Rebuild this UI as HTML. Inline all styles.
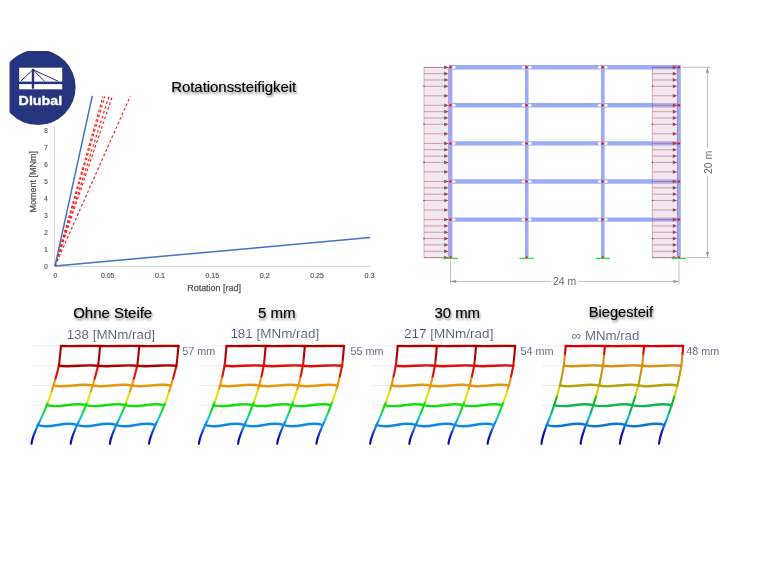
<!DOCTYPE html>
<html lang="de"><head><meta charset="utf-8"><title>Rotationssteifigkeit</title>
<style>
html,body{margin:0;padding:0;background:#fff;}
body{width:760px;height:570px;overflow:hidden;font-family:"Liberation Sans",sans-serif;}
svg{display:block;}
.h{font-family:"Liberation Sans",sans-serif;font-size:14.6px;fill:#000;stroke:#000;stroke-width:0.14px;}
.v{font-family:"Liberation Sans",sans-serif;font-size:12.6px;fill:#47536f;stroke:#fff;stroke-width:0.12px;}
.mm{font-family:"Liberation Sans",sans-serif;font-size:11.4px;fill:#47536f;stroke:#fff;stroke-width:0.1px;}
.t{font-family:"Liberation Sans",sans-serif;font-size:6.3px;fill:#555;stroke:#555;stroke-width:0.15px;}
.ax{font-family:"Liberation Sans",sans-serif;font-size:8.4px;fill:#555;stroke:#555;stroke-width:0.25px;}
.dim{font-family:"Liberation Sans",sans-serif;font-size:10.5px;fill:#6a6a6a;}
</style></head><body>
<svg width="760" height="570" viewBox="0 0 760 570">
<defs>
<filter id="sh" x="-10%" y="-40%" width="120%" height="200%"><feGaussianBlur in="SourceAlpha" stdDeviation="1.2"/><feOffset dx="0.6" dy="1.7" result="o"/><feComponentTransfer><feFuncA type="linear" slope="0.5"/></feComponentTransfer><feMerge><feMergeNode/><feMergeNode in="SourceGraphic"/></feMerge></filter>
<filter id="soft"><feGaussianBlur stdDeviation="0.4"/></filter>
<filter id="soft2"><feGaussianBlur stdDeviation="0.35"/></filter>
<clipPath id="lc"><rect x="9.5" y="50.9" width="80" height="90"/></clipPath>
<linearGradient id="g1" gradientUnits="userSpaceOnUse" x1="0" y1="346" x2="0" y2="444"><stop offset="0" stop-color="#b00404"/><stop offset="0.21" stop-color="#b00404"/><stop offset="0.22" stop-color="#e00c0c"/><stop offset="0.33" stop-color="#e00c0c"/><stop offset="0.35" stop-color="#e8960a"/><stop offset="0.46" stop-color="#e8960a"/><stop offset="0.48" stop-color="#e8e010"/><stop offset="0.57" stop-color="#e4e410"/><stop offset="0.59" stop-color="#10e010"/><stop offset="0.66" stop-color="#10e010"/><stop offset="0.69" stop-color="#10dc70"/><stop offset="0.73" stop-color="#10d0e0"/><stop offset="0.76" stop-color="#10b8ec"/><stop offset="0.78" stop-color="#1088e8"/><stop offset="0.84" stop-color="#1088e8"/><stop offset="0.87" stop-color="#1048d8"/><stop offset="0.91" stop-color="#1028cc"/><stop offset="0.94" stop-color="#1010b0"/><stop offset="1" stop-color="#10109c"/></linearGradient>
<linearGradient id="g2" gradientUnits="userSpaceOnUse" x1="0" y1="346" x2="0" y2="444"><stop offset="0" stop-color="#b00404"/><stop offset="0.14" stop-color="#b00404"/><stop offset="0.16" stop-color="#e00c0c"/><stop offset="0.31" stop-color="#e00c0c"/><stop offset="0.33" stop-color="#e8960a"/><stop offset="0.43" stop-color="#e8960a"/><stop offset="0.46" stop-color="#e8e010"/><stop offset="0.56" stop-color="#e4e410"/><stop offset="0.58" stop-color="#10e010"/><stop offset="0.66" stop-color="#10e010"/><stop offset="0.69" stop-color="#10dc70"/><stop offset="0.73" stop-color="#10d0e0"/><stop offset="0.76" stop-color="#10b8ec"/><stop offset="0.78" stop-color="#1088e8"/><stop offset="0.84" stop-color="#1088e8"/><stop offset="0.87" stop-color="#1048d8"/><stop offset="0.91" stop-color="#1028cc"/><stop offset="0.94" stop-color="#1010b0"/><stop offset="1" stop-color="#10109c"/></linearGradient>
<linearGradient id="g4" gradientUnits="userSpaceOnUse" x1="0" y1="346" x2="0" y2="444"><stop offset="0" stop-color="#d80404"/><stop offset="0.08" stop-color="#d80404"/><stop offset="0.1" stop-color="#d89010"/><stop offset="0.29" stop-color="#d89010"/><stop offset="0.31" stop-color="#b0a408"/><stop offset="0.4" stop-color="#b0a408"/><stop offset="0.42" stop-color="#d8d010"/><stop offset="0.5" stop-color="#d8d010"/><stop offset="0.52" stop-color="#10c010"/><stop offset="0.59" stop-color="#10c010"/><stop offset="0.6" stop-color="#10b450"/><stop offset="0.68" stop-color="#10b460"/><stop offset="0.7" stop-color="#10c0c0"/><stop offset="0.73" stop-color="#10c0e0"/><stop offset="0.77" stop-color="#1090e4"/><stop offset="0.79" stop-color="#1078d4"/><stop offset="0.83" stop-color="#1070d4"/><stop offset="0.85" stop-color="#1030d0"/><stop offset="0.89" stop-color="#1010cc"/><stop offset="0.93" stop-color="#1010a0"/><stop offset="1" stop-color="#101090"/></linearGradient>
</defs>
<rect width="760" height="570" fill="#fff"/>
<g id="chart">
<g><line x1="54.5" y1="126" x2="54.5" y2="266.8" stroke="#d2d2d2" stroke-width="1"/><line x1="54" y1="266.4" x2="370" y2="266.4" stroke="#cfcfcf" stroke-width="1"/></g>
<text class="t" x="46" y="269.2" text-anchor="middle">0</text><text class="t" x="46" y="252.2" text-anchor="middle">1</text><text class="t" x="46" y="235.2" text-anchor="middle">2</text><text class="t" x="46" y="218.2" text-anchor="middle">3</text><text class="t" x="46" y="201.2" text-anchor="middle">4</text><text class="t" x="46" y="184.2" text-anchor="middle">5</text><text class="t" x="46" y="167.2" text-anchor="middle">6</text><text class="t" x="46" y="150.2" text-anchor="middle">7</text><text class="t" x="46" y="133.2" text-anchor="middle">8</text><text class="t" x="53.5" y="277.6" textLength="3.6" lengthAdjust="spacingAndGlyphs">0</text><text class="t" x="100.9" y="277.6" textLength="13.5" lengthAdjust="spacingAndGlyphs">0.05</text><text class="t" x="155" y="277.6" textLength="10" lengthAdjust="spacingAndGlyphs">0.1</text><text class="t" x="205.6" y="277.6" textLength="13.5" lengthAdjust="spacingAndGlyphs">0.15</text><text class="t" x="259.7" y="277.6" textLength="10" lengthAdjust="spacingAndGlyphs">0.2</text><text class="t" x="310.3" y="277.6" textLength="13.5" lengthAdjust="spacingAndGlyphs">0.25</text><text class="t" x="364.4" y="277.6" textLength="10" lengthAdjust="spacingAndGlyphs">0.3</text>
<text class="ax" x="187.2" y="290.7" textLength="53.8" lengthAdjust="spacingAndGlyphs">Rotation [rad]</text><text class="ax" transform="translate(36.2 212.6) rotate(-90)" textLength="61.6" lengthAdjust="spacingAndGlyphs">Moment [MNm]</text>
<g filter="url(#soft2)" fill="none" stroke-linecap="butt"><line x1="55" y1="266" x2="103" y2="96.5" stroke="#ff1a1a" stroke-width="1.15" stroke-dasharray="2.7 2.3"/><line x1="55" y1="266" x2="104.8" y2="96.5" stroke="#ff1a1a" stroke-width="1.15" stroke-dasharray="2.7 2.3"/><line x1="55" y1="266" x2="108.9" y2="96.5" stroke="#ff1a1a" stroke-width="1.15" stroke-dasharray="2.7 2.3"/><line x1="55" y1="266" x2="112.5" y2="95.8" stroke="#ff1a1a" stroke-width="1.15" stroke-dasharray="2.7 2.3"/><line x1="55" y1="266" x2="130.3" y2="96.2" stroke="#ff1a1a" stroke-width="1.15" stroke-dasharray="2.7 2.3"/><line x1="55" y1="266" x2="92.3" y2="95.8" stroke="#4472c4" stroke-width="1.5"/><line x1="55" y1="266" x2="370.2" y2="237.5" stroke="#4472c4" stroke-width="1.5"/></g>
<text class="h" x="171.2" y="91.8" filter="url(#sh)" textLength="125" lengthAdjust="spacingAndGlyphs">Rotationssteifigkeit</text>
</g>
<g id="logo" filter="url(#soft2)">
<circle cx="37.85" cy="87.3" r="37.75" fill="#28367e" clip-path="url(#lc)"/>
<rect x="19.2" y="67.7" width="43" height="13.9" fill="#fff"/><rect x="19.2" y="84.1" width="43" height="5.2" fill="#fff"/><rect x="31.8" y="68.9" width="2.4" height="19.8" fill="#28367e"/><g stroke="#28367e" stroke-width="1" fill="none"><line x1="32.6" y1="70" x2="20.6" y2="81.3"/><line x1="33.6" y1="70.4" x2="44.6" y2="81.3"/><line x1="33.6" y1="70" x2="58.4" y2="81.3"/></g>
<text x="18.6" y="105.4" font-family="Liberation Sans, sans-serif" font-weight="bold" font-size="13.7" fill="#fff" stroke="#fff" stroke-width="0.35" textLength="43.6" lengthAdjust="spacingAndGlyphs">Dlubal</text>
</g>
<g id="struct" filter="url(#soft2)">
<line x1="449" y1="67.3" x2="680.6" y2="67.3" stroke="#9babf9" stroke-width="4.4"/><line x1="449" y1="105.3" x2="680.6" y2="105.3" stroke="#9babf9" stroke-width="4.4"/><line x1="449" y1="143.4" x2="680.6" y2="143.4" stroke="#9babf9" stroke-width="4.4"/><line x1="449" y1="181.5" x2="680.6" y2="181.5" stroke="#9babf9" stroke-width="4.4"/><line x1="449" y1="219.6" x2="680.6" y2="219.6" stroke="#9babf9" stroke-width="4.4"/><line x1="450.6" y1="65.1" x2="450.6" y2="257.8" stroke="#9babf9" stroke-width="3.6"/><line x1="526.7" y1="65.1" x2="526.7" y2="257.8" stroke="#9babf9" stroke-width="3.6"/><line x1="602.8" y1="65.1" x2="602.8" y2="257.8" stroke="#9babf9" stroke-width="3.6"/><line x1="679" y1="65.1" x2="679" y2="257.8" stroke="#9babf9" stroke-width="3.6"/>
<rect x="424" y="67.3" width="24.6" height="190.5" fill="#d9b8c8" fill-opacity="0.33" stroke="#8e3a66" stroke-opacity="0.7" stroke-width="0.5"/><line x1="424" y1="67.3" x2="446.1" y2="67.3" stroke="#8e3a66" stroke-opacity="0.7" stroke-width="0.6"/><path d="M448.6 67.3 l-4.4 -1.85 v3.7z" fill="#8e3a66" fill-opacity="0.92"/><line x1="424" y1="73.63" x2="446.1" y2="73.63" stroke="#8e3a66" stroke-opacity="0.7" stroke-width="0.6"/><path d="M448.6 73.63 l-4.4 -1.85 v3.7z" fill="#8e3a66" fill-opacity="0.92"/><line x1="424" y1="79.97" x2="446.1" y2="79.97" stroke="#8e3a66" stroke-opacity="0.7" stroke-width="0.6"/><path d="M448.6 79.97 l-4.4 -1.85 v3.7z" fill="#8e3a66" fill-opacity="0.92"/><line x1="424" y1="86.3" x2="446.1" y2="86.3" stroke="#8e3a66" stroke-opacity="0.7" stroke-width="0.6"/><path d="M448.6 86.3 l-4.4 -1.85 v3.7z" fill="#8e3a66" fill-opacity="0.92"/><circle cx="424" cy="86.3" r="0.8" fill="#8e3a66"/><line x1="424" y1="95.8" x2="446.1" y2="95.8" stroke="#8e3a66" stroke-opacity="0.7" stroke-width="0.6"/><path d="M448.6 95.8 l-4.4 -1.85 v3.7z" fill="#8e3a66" fill-opacity="0.92"/><line x1="424" y1="105.3" x2="446.1" y2="105.3" stroke="#8e3a66" stroke-opacity="0.7" stroke-width="0.6"/><path d="M448.6 105.3 l-4.4 -1.85 v3.7z" fill="#8e3a66" fill-opacity="0.92"/><line x1="424" y1="111.63" x2="446.1" y2="111.63" stroke="#8e3a66" stroke-opacity="0.7" stroke-width="0.6"/><path d="M448.6 111.63 l-4.4 -1.85 v3.7z" fill="#8e3a66" fill-opacity="0.92"/><line x1="424" y1="117.97" x2="446.1" y2="117.97" stroke="#8e3a66" stroke-opacity="0.7" stroke-width="0.6"/><path d="M448.6 117.97 l-4.4 -1.85 v3.7z" fill="#8e3a66" fill-opacity="0.92"/><line x1="424" y1="124.3" x2="446.1" y2="124.3" stroke="#8e3a66" stroke-opacity="0.7" stroke-width="0.6"/><path d="M448.6 124.3 l-4.4 -1.85 v3.7z" fill="#8e3a66" fill-opacity="0.92"/><circle cx="424" cy="124.3" r="0.8" fill="#8e3a66"/><line x1="424" y1="133.8" x2="446.1" y2="133.8" stroke="#8e3a66" stroke-opacity="0.7" stroke-width="0.6"/><path d="M448.6 133.8 l-4.4 -1.85 v3.7z" fill="#8e3a66" fill-opacity="0.92"/><line x1="424" y1="143.4" x2="446.1" y2="143.4" stroke="#8e3a66" stroke-opacity="0.7" stroke-width="0.6"/><path d="M448.6 143.4 l-4.4 -1.85 v3.7z" fill="#8e3a66" fill-opacity="0.92"/><line x1="424" y1="149.73" x2="446.1" y2="149.73" stroke="#8e3a66" stroke-opacity="0.7" stroke-width="0.6"/><path d="M448.6 149.73 l-4.4 -1.85 v3.7z" fill="#8e3a66" fill-opacity="0.92"/><line x1="424" y1="156.07" x2="446.1" y2="156.07" stroke="#8e3a66" stroke-opacity="0.7" stroke-width="0.6"/><path d="M448.6 156.07 l-4.4 -1.85 v3.7z" fill="#8e3a66" fill-opacity="0.92"/><line x1="424" y1="162.4" x2="446.1" y2="162.4" stroke="#8e3a66" stroke-opacity="0.7" stroke-width="0.6"/><path d="M448.6 162.4 l-4.4 -1.85 v3.7z" fill="#8e3a66" fill-opacity="0.92"/><circle cx="424" cy="162.4" r="0.8" fill="#8e3a66"/><line x1="424" y1="171.9" x2="446.1" y2="171.9" stroke="#8e3a66" stroke-opacity="0.7" stroke-width="0.6"/><path d="M448.6 171.9 l-4.4 -1.85 v3.7z" fill="#8e3a66" fill-opacity="0.92"/><line x1="424" y1="181.5" x2="446.1" y2="181.5" stroke="#8e3a66" stroke-opacity="0.7" stroke-width="0.6"/><path d="M448.6 181.5 l-4.4 -1.85 v3.7z" fill="#8e3a66" fill-opacity="0.92"/><line x1="424" y1="187.83" x2="446.1" y2="187.83" stroke="#8e3a66" stroke-opacity="0.7" stroke-width="0.6"/><path d="M448.6 187.83 l-4.4 -1.85 v3.7z" fill="#8e3a66" fill-opacity="0.92"/><line x1="424" y1="194.17" x2="446.1" y2="194.17" stroke="#8e3a66" stroke-opacity="0.7" stroke-width="0.6"/><path d="M448.6 194.17 l-4.4 -1.85 v3.7z" fill="#8e3a66" fill-opacity="0.92"/><line x1="424" y1="200.5" x2="446.1" y2="200.5" stroke="#8e3a66" stroke-opacity="0.7" stroke-width="0.6"/><path d="M448.6 200.5 l-4.4 -1.85 v3.7z" fill="#8e3a66" fill-opacity="0.92"/><circle cx="424" cy="200.5" r="0.8" fill="#8e3a66"/><line x1="424" y1="210" x2="446.1" y2="210" stroke="#8e3a66" stroke-opacity="0.7" stroke-width="0.6"/><path d="M448.6 210 l-4.4 -1.85 v3.7z" fill="#8e3a66" fill-opacity="0.92"/><line x1="424" y1="219.6" x2="446.1" y2="219.6" stroke="#8e3a66" stroke-opacity="0.7" stroke-width="0.6"/><path d="M448.6 219.6 l-4.4 -1.85 v3.7z" fill="#8e3a66" fill-opacity="0.92"/><line x1="424" y1="225.93" x2="446.1" y2="225.93" stroke="#8e3a66" stroke-opacity="0.7" stroke-width="0.6"/><path d="M448.6 225.93 l-4.4 -1.85 v3.7z" fill="#8e3a66" fill-opacity="0.92"/><line x1="424" y1="232.27" x2="446.1" y2="232.27" stroke="#8e3a66" stroke-opacity="0.7" stroke-width="0.6"/><path d="M448.6 232.27 l-4.4 -1.85 v3.7z" fill="#8e3a66" fill-opacity="0.92"/><line x1="424" y1="238.6" x2="446.1" y2="238.6" stroke="#8e3a66" stroke-opacity="0.7" stroke-width="0.6"/><path d="M448.6 238.6 l-4.4 -1.85 v3.7z" fill="#8e3a66" fill-opacity="0.92"/><circle cx="424" cy="238.6" r="0.8" fill="#8e3a66"/><line x1="424" y1="244.9" x2="446.1" y2="244.9" stroke="#8e3a66" stroke-opacity="0.7" stroke-width="0.6"/><path d="M448.6 244.9 l-4.4 -1.85 v3.7z" fill="#8e3a66" fill-opacity="0.92"/><line x1="424" y1="251.3" x2="446.1" y2="251.3" stroke="#8e3a66" stroke-opacity="0.7" stroke-width="0.6"/><path d="M448.6 251.3 l-4.4 -1.85 v3.7z" fill="#8e3a66" fill-opacity="0.92"/><line x1="424" y1="257.7" x2="446.1" y2="257.7" stroke="#8e3a66" stroke-opacity="0.7" stroke-width="0.6"/><path d="M448.6 257.7 l-4.4 -1.85 v3.7z" fill="#8e3a66" fill-opacity="0.92"/>
<rect x="652.4" y="67.3" width="24.8" height="190.5" fill="#d9b8c8" fill-opacity="0.33" stroke="#8e3a66" stroke-opacity="0.7" stroke-width="0.5"/><line x1="652.4" y1="67.3" x2="674.7" y2="67.3" stroke="#8e3a66" stroke-opacity="0.7" stroke-width="0.6"/><path d="M677.2 67.3 l-4.4 -1.85 v3.7z" fill="#8e3a66" fill-opacity="0.92"/><line x1="652.4" y1="73.63" x2="674.7" y2="73.63" stroke="#8e3a66" stroke-opacity="0.7" stroke-width="0.6"/><path d="M677.2 73.63 l-4.4 -1.85 v3.7z" fill="#8e3a66" fill-opacity="0.92"/><line x1="652.4" y1="79.97" x2="674.7" y2="79.97" stroke="#8e3a66" stroke-opacity="0.7" stroke-width="0.6"/><path d="M677.2 79.97 l-4.4 -1.85 v3.7z" fill="#8e3a66" fill-opacity="0.92"/><line x1="652.4" y1="86.3" x2="674.7" y2="86.3" stroke="#8e3a66" stroke-opacity="0.7" stroke-width="0.6"/><path d="M677.2 86.3 l-4.4 -1.85 v3.7z" fill="#8e3a66" fill-opacity="0.92"/><circle cx="652.4" cy="86.3" r="0.8" fill="#8e3a66"/><line x1="652.4" y1="95.8" x2="674.7" y2="95.8" stroke="#8e3a66" stroke-opacity="0.7" stroke-width="0.6"/><path d="M677.2 95.8 l-4.4 -1.85 v3.7z" fill="#8e3a66" fill-opacity="0.92"/><line x1="652.4" y1="105.3" x2="674.7" y2="105.3" stroke="#8e3a66" stroke-opacity="0.7" stroke-width="0.6"/><path d="M677.2 105.3 l-4.4 -1.85 v3.7z" fill="#8e3a66" fill-opacity="0.92"/><line x1="652.4" y1="111.63" x2="674.7" y2="111.63" stroke="#8e3a66" stroke-opacity="0.7" stroke-width="0.6"/><path d="M677.2 111.63 l-4.4 -1.85 v3.7z" fill="#8e3a66" fill-opacity="0.92"/><line x1="652.4" y1="117.97" x2="674.7" y2="117.97" stroke="#8e3a66" stroke-opacity="0.7" stroke-width="0.6"/><path d="M677.2 117.97 l-4.4 -1.85 v3.7z" fill="#8e3a66" fill-opacity="0.92"/><line x1="652.4" y1="124.3" x2="674.7" y2="124.3" stroke="#8e3a66" stroke-opacity="0.7" stroke-width="0.6"/><path d="M677.2 124.3 l-4.4 -1.85 v3.7z" fill="#8e3a66" fill-opacity="0.92"/><circle cx="652.4" cy="124.3" r="0.8" fill="#8e3a66"/><line x1="652.4" y1="133.8" x2="674.7" y2="133.8" stroke="#8e3a66" stroke-opacity="0.7" stroke-width="0.6"/><path d="M677.2 133.8 l-4.4 -1.85 v3.7z" fill="#8e3a66" fill-opacity="0.92"/><line x1="652.4" y1="143.4" x2="674.7" y2="143.4" stroke="#8e3a66" stroke-opacity="0.7" stroke-width="0.6"/><path d="M677.2 143.4 l-4.4 -1.85 v3.7z" fill="#8e3a66" fill-opacity="0.92"/><line x1="652.4" y1="149.73" x2="674.7" y2="149.73" stroke="#8e3a66" stroke-opacity="0.7" stroke-width="0.6"/><path d="M677.2 149.73 l-4.4 -1.85 v3.7z" fill="#8e3a66" fill-opacity="0.92"/><line x1="652.4" y1="156.07" x2="674.7" y2="156.07" stroke="#8e3a66" stroke-opacity="0.7" stroke-width="0.6"/><path d="M677.2 156.07 l-4.4 -1.85 v3.7z" fill="#8e3a66" fill-opacity="0.92"/><line x1="652.4" y1="162.4" x2="674.7" y2="162.4" stroke="#8e3a66" stroke-opacity="0.7" stroke-width="0.6"/><path d="M677.2 162.4 l-4.4 -1.85 v3.7z" fill="#8e3a66" fill-opacity="0.92"/><circle cx="652.4" cy="162.4" r="0.8" fill="#8e3a66"/><line x1="652.4" y1="171.9" x2="674.7" y2="171.9" stroke="#8e3a66" stroke-opacity="0.7" stroke-width="0.6"/><path d="M677.2 171.9 l-4.4 -1.85 v3.7z" fill="#8e3a66" fill-opacity="0.92"/><line x1="652.4" y1="181.5" x2="674.7" y2="181.5" stroke="#8e3a66" stroke-opacity="0.7" stroke-width="0.6"/><path d="M677.2 181.5 l-4.4 -1.85 v3.7z" fill="#8e3a66" fill-opacity="0.92"/><line x1="652.4" y1="187.83" x2="674.7" y2="187.83" stroke="#8e3a66" stroke-opacity="0.7" stroke-width="0.6"/><path d="M677.2 187.83 l-4.4 -1.85 v3.7z" fill="#8e3a66" fill-opacity="0.92"/><line x1="652.4" y1="194.17" x2="674.7" y2="194.17" stroke="#8e3a66" stroke-opacity="0.7" stroke-width="0.6"/><path d="M677.2 194.17 l-4.4 -1.85 v3.7z" fill="#8e3a66" fill-opacity="0.92"/><line x1="652.4" y1="200.5" x2="674.7" y2="200.5" stroke="#8e3a66" stroke-opacity="0.7" stroke-width="0.6"/><path d="M677.2 200.5 l-4.4 -1.85 v3.7z" fill="#8e3a66" fill-opacity="0.92"/><circle cx="652.4" cy="200.5" r="0.8" fill="#8e3a66"/><line x1="652.4" y1="210" x2="674.7" y2="210" stroke="#8e3a66" stroke-opacity="0.7" stroke-width="0.6"/><path d="M677.2 210 l-4.4 -1.85 v3.7z" fill="#8e3a66" fill-opacity="0.92"/><line x1="652.4" y1="219.6" x2="674.7" y2="219.6" stroke="#8e3a66" stroke-opacity="0.7" stroke-width="0.6"/><path d="M677.2 219.6 l-4.4 -1.85 v3.7z" fill="#8e3a66" fill-opacity="0.92"/><line x1="652.4" y1="225.93" x2="674.7" y2="225.93" stroke="#8e3a66" stroke-opacity="0.7" stroke-width="0.6"/><path d="M677.2 225.93 l-4.4 -1.85 v3.7z" fill="#8e3a66" fill-opacity="0.92"/><line x1="652.4" y1="232.27" x2="674.7" y2="232.27" stroke="#8e3a66" stroke-opacity="0.7" stroke-width="0.6"/><path d="M677.2 232.27 l-4.4 -1.85 v3.7z" fill="#8e3a66" fill-opacity="0.92"/><line x1="652.4" y1="238.6" x2="674.7" y2="238.6" stroke="#8e3a66" stroke-opacity="0.7" stroke-width="0.6"/><path d="M677.2 238.6 l-4.4 -1.85 v3.7z" fill="#8e3a66" fill-opacity="0.92"/><circle cx="652.4" cy="238.6" r="0.8" fill="#8e3a66"/><line x1="652.4" y1="244.9" x2="674.7" y2="244.9" stroke="#8e3a66" stroke-opacity="0.7" stroke-width="0.6"/><path d="M677.2 244.9 l-4.4 -1.85 v3.7z" fill="#8e3a66" fill-opacity="0.92"/><line x1="652.4" y1="251.3" x2="674.7" y2="251.3" stroke="#8e3a66" stroke-opacity="0.7" stroke-width="0.6"/><path d="M677.2 251.3 l-4.4 -1.85 v3.7z" fill="#8e3a66" fill-opacity="0.92"/><line x1="652.4" y1="257.7" x2="674.7" y2="257.7" stroke="#8e3a66" stroke-opacity="0.7" stroke-width="0.6"/><path d="M677.2 257.7 l-4.4 -1.85 v3.7z" fill="#8e3a66" fill-opacity="0.92"/>
<ellipse cx="453.8" cy="67.3" rx="1.7" ry="1.55" fill="#fff" stroke="#c8c8d8" stroke-width="0.3"/><circle cx="450.4" cy="67.3" r="1.25" fill="#ff0a0a"/><ellipse cx="523.5" cy="67.3" rx="1.7" ry="1.55" fill="#fff" stroke="#c8c8d8" stroke-width="0.3"/><ellipse cx="529.9" cy="67.3" rx="1.7" ry="1.55" fill="#fff" stroke="#c8c8d8" stroke-width="0.3"/><circle cx="526.5" cy="67.3" r="1.25" fill="#ff0a0a"/><ellipse cx="599.6" cy="67.3" rx="1.7" ry="1.55" fill="#fff" stroke="#c8c8d8" stroke-width="0.3"/><ellipse cx="606" cy="67.3" rx="1.7" ry="1.55" fill="#fff" stroke="#c8c8d8" stroke-width="0.3"/><circle cx="602.6" cy="67.3" r="1.25" fill="#ff0a0a"/><circle cx="678.8" cy="67.3" r="1.25" fill="#ff0a0a"/><ellipse cx="453.8" cy="105.3" rx="1.7" ry="1.55" fill="#fff" stroke="#c8c8d8" stroke-width="0.3"/><circle cx="450.4" cy="105.3" r="1.25" fill="#ff0a0a"/><ellipse cx="523.5" cy="105.3" rx="1.7" ry="1.55" fill="#fff" stroke="#c8c8d8" stroke-width="0.3"/><ellipse cx="529.9" cy="105.3" rx="1.7" ry="1.55" fill="#fff" stroke="#c8c8d8" stroke-width="0.3"/><circle cx="526.5" cy="105.3" r="1.25" fill="#ff0a0a"/><ellipse cx="599.6" cy="105.3" rx="1.7" ry="1.55" fill="#fff" stroke="#c8c8d8" stroke-width="0.3"/><ellipse cx="606" cy="105.3" rx="1.7" ry="1.55" fill="#fff" stroke="#c8c8d8" stroke-width="0.3"/><circle cx="602.6" cy="105.3" r="1.25" fill="#ff0a0a"/><circle cx="678.8" cy="105.3" r="1.25" fill="#ff0a0a"/><ellipse cx="453.8" cy="143.4" rx="1.7" ry="1.55" fill="#fff" stroke="#c8c8d8" stroke-width="0.3"/><circle cx="450.4" cy="143.4" r="1.25" fill="#ff0a0a"/><ellipse cx="523.5" cy="143.4" rx="1.7" ry="1.55" fill="#fff" stroke="#c8c8d8" stroke-width="0.3"/><ellipse cx="529.9" cy="143.4" rx="1.7" ry="1.55" fill="#fff" stroke="#c8c8d8" stroke-width="0.3"/><circle cx="526.5" cy="143.4" r="1.25" fill="#ff0a0a"/><ellipse cx="599.6" cy="143.4" rx="1.7" ry="1.55" fill="#fff" stroke="#c8c8d8" stroke-width="0.3"/><ellipse cx="606" cy="143.4" rx="1.7" ry="1.55" fill="#fff" stroke="#c8c8d8" stroke-width="0.3"/><circle cx="602.6" cy="143.4" r="1.25" fill="#ff0a0a"/><circle cx="678.8" cy="143.4" r="1.25" fill="#ff0a0a"/><ellipse cx="453.8" cy="181.5" rx="1.7" ry="1.55" fill="#fff" stroke="#c8c8d8" stroke-width="0.3"/><circle cx="450.4" cy="181.5" r="1.25" fill="#ff0a0a"/><ellipse cx="523.5" cy="181.5" rx="1.7" ry="1.55" fill="#fff" stroke="#c8c8d8" stroke-width="0.3"/><ellipse cx="529.9" cy="181.5" rx="1.7" ry="1.55" fill="#fff" stroke="#c8c8d8" stroke-width="0.3"/><circle cx="526.5" cy="181.5" r="1.25" fill="#ff0a0a"/><ellipse cx="599.6" cy="181.5" rx="1.7" ry="1.55" fill="#fff" stroke="#c8c8d8" stroke-width="0.3"/><ellipse cx="606" cy="181.5" rx="1.7" ry="1.55" fill="#fff" stroke="#c8c8d8" stroke-width="0.3"/><circle cx="602.6" cy="181.5" r="1.25" fill="#ff0a0a"/><circle cx="678.8" cy="181.5" r="1.25" fill="#ff0a0a"/><ellipse cx="453.8" cy="219.6" rx="1.7" ry="1.55" fill="#fff" stroke="#c8c8d8" stroke-width="0.3"/><circle cx="450.4" cy="219.6" r="1.25" fill="#ff0a0a"/><ellipse cx="523.5" cy="219.6" rx="1.7" ry="1.55" fill="#fff" stroke="#c8c8d8" stroke-width="0.3"/><ellipse cx="529.9" cy="219.6" rx="1.7" ry="1.55" fill="#fff" stroke="#c8c8d8" stroke-width="0.3"/><circle cx="526.5" cy="219.6" r="1.25" fill="#ff0a0a"/><ellipse cx="599.6" cy="219.6" rx="1.7" ry="1.55" fill="#fff" stroke="#c8c8d8" stroke-width="0.3"/><ellipse cx="606" cy="219.6" rx="1.7" ry="1.55" fill="#fff" stroke="#c8c8d8" stroke-width="0.3"/><circle cx="602.6" cy="219.6" r="1.25" fill="#ff0a0a"/><circle cx="678.8" cy="219.6" r="1.25" fill="#ff0a0a"/>
<line x1="443.3" y1="258.4" x2="457.9" y2="258.4" stroke="#2fe03a" stroke-width="1.3"/><rect x="449.7" y="256.4" width="1.8" height="1.8" fill="#ff1010"/><line x1="519.4" y1="258.4" x2="534" y2="258.4" stroke="#2fe03a" stroke-width="1.3"/><rect x="525.8" y="256.4" width="1.8" height="1.8" fill="#ff1010"/><line x1="595.5" y1="258.4" x2="610.1" y2="258.4" stroke="#2fe03a" stroke-width="1.3"/><rect x="601.9" y="256.4" width="1.8" height="1.8" fill="#ff1010"/><line x1="671.7" y1="258.4" x2="686.3" y2="258.4" stroke="#2fe03a" stroke-width="1.3"/><rect x="678.1" y="256.4" width="1.8" height="1.8" fill="#ff1010"/>
<g stroke="#a4a4a4" stroke-width="0.7" fill="none"><line x1="682" y1="67.2" x2="710.5" y2="67.2"/><line x1="686.5" y1="257.6" x2="710.5" y2="257.6"/><line x1="707.5" y1="67.2" x2="707.5" y2="148.5"/><line x1="707.5" y1="176" x2="707.5" y2="257.6"/><line x1="450.5" y1="261" x2="450.5" y2="284.5"/><line x1="679" y1="261" x2="679" y2="284.5"/><line x1="450.5" y1="281.4" x2="551" y2="281.4"/><line x1="578.2" y1="281.4" x2="679" y2="281.4"/></g><g fill="#9a9a9a"><path d="M707.5 67.2 l-1.6 5.6 h3.2z"/><path d="M707.5 257.6 l-1.6 -5.6 h3.2z"/><path d="M450.5 281.4 l5.6 -1.6 v3.2z"/><path d="M679 281.4 l-5.6 -1.6 v3.2z"/></g>
<text class="dim" x="564.6" y="285.2" text-anchor="middle">24 m</text><text class="dim" transform="translate(712 162.4) rotate(-90)" text-anchor="middle">20 m</text>
</g>
<g>
<g stroke="#e8e8e8" stroke-width="0.8" filter="url(#soft2)"><line x1="32" y1="346" x2="61" y2="346"/><line x1="32" y1="365.8" x2="58.9" y2="365.8"/><line x1="32" y1="385.5" x2="53.5" y2="385.5"/><line x1="32" y1="405.2" x2="46.8" y2="405.2"/><line x1="32" y1="425" x2="37.8" y2="425"/></g>
<g fill="none" stroke-linecap="round" stroke-linejoin="round" filter="url(#soft)"><g stroke="url(#g1)" stroke-width="2.1"><path d="M31.5 443.8 C32.13 437.5 35.3 431.5 37.8 425 C41.4 418.5 44.1 411.7 46.8 405.2 C49.48 398.7 51.49 392 53.5 385.5 C55.66 379 57.28 372.3 58.9 365.8 C59.74 359.3 60.37 352.5 61 346"/><path d="M70.67 443.8 C71.3 437.5 74.47 431.5 76.97 425 C80.57 418.5 83.27 411.7 85.97 405.2 C88.65 398.7 90.66 392 92.67 385.5 C94.83 379 96.45 372.3 98.07 365.8 C98.91 359.3 99.54 352.5 100.17 346"/><path d="M109.84 443.8 C110.47 437.5 113.64 431.5 116.14 425 C119.74 418.5 122.44 411.7 125.14 405.2 C127.82 398.7 129.83 392 131.84 385.5 C134 379 135.62 372.3 137.24 365.8 C138.08 359.3 138.71 352.5 139.34 346"/><path d="M149.01 443.8 C149.64 437.5 152.81 431.5 155.31 425 C158.91 418.5 161.61 411.7 164.31 405.2 C166.99 398.7 169 392 171.01 385.5 C173.17 379 174.79 372.3 176.41 365.8 C177.25 359.3 177.88 352.5 178.51 346"/></g><g stroke-width="2.4"><path d="M61 346 C73.93 346.55 87.24 345.45 100.17 346 C113.1 346.55 126.41 345.45 139.34 346 C152.27 346.55 165.58 345.45 178.51 346" stroke="#b00404"/><path d="M58.9 365.8 C71.83 367.56 85.14 364.04 98.07 365.8 C111 367.56 124.31 364.04 137.24 365.8 C150.17 367.56 163.48 364.04 176.41 365.8" stroke="#b00404"/><path d="M53.5 385.5 C66.43 388.36 79.74 382.64 92.67 385.5 C105.6 388.36 118.91 382.64 131.84 385.5 C144.77 388.36 158.08 382.64 171.01 385.5" stroke="#e8960a"/><path d="M46.8 405.2 C59.73 408.83 73.04 401.57 85.97 405.2 C98.9 408.83 112.21 401.57 125.14 405.2 C138.07 408.83 151.38 401.57 164.31 405.2" stroke="#10e010"/><path d="M37.8 425 C50.73 429.84 64.04 420.16 76.97 425 C89.9 429.84 103.21 420.16 116.14 425 C129.07 429.84 142.38 420.16 155.31 425" stroke="#1088e8"/></g></g>
<text class="h" x="73.2" y="317.6" filter="url(#sh)" textLength="79" lengthAdjust="spacingAndGlyphs">Ohne Steife</text><text class="v" x="66.7" y="338.9" textLength="88.4" lengthAdjust="spacingAndGlyphs">138 [MNm/rad]</text><text class="mm" x="182.3" y="354.8" textLength="33" lengthAdjust="spacingAndGlyphs">57 mm</text></g>
<g>
<g stroke="#e8e8e8" stroke-width="0.8" filter="url(#soft2)"><line x1="199.4" y1="346" x2="226.5" y2="346"/><line x1="199.4" y1="365.8" x2="224.6" y2="365.8"/><line x1="199.4" y1="385.5" x2="220.1" y2="385.5"/><line x1="199.4" y1="405.2" x2="213.5" y2="405.2"/><line x1="199.4" y1="425" x2="205.2" y2="425"/></g>
<g fill="none" stroke-linecap="round" stroke-linejoin="round" filter="url(#soft)"><g stroke="url(#g2)" stroke-width="2.1"><path d="M198.9 443.8 C199.53 437.5 202.7 431.5 205.2 425 C208.52 418.5 211.01 411.7 213.5 405.2 C216.14 398.7 218.12 392 220.1 385.5 C221.9 379 223.25 372.3 224.6 365.8 C225.36 359.3 225.93 352.5 226.5 346"/><path d="M238.07 443.8 C238.7 437.5 241.87 431.5 244.37 425 C247.69 418.5 250.18 411.7 252.67 405.2 C255.31 398.7 257.29 392 259.27 385.5 C261.07 379 262.42 372.3 263.77 365.8 C264.53 359.3 265.1 352.5 265.67 346"/><path d="M277.24 443.8 C277.87 437.5 281.04 431.5 283.54 425 C286.86 418.5 289.35 411.7 291.84 405.2 C294.48 398.7 296.46 392 298.44 385.5 C300.24 379 301.59 372.3 302.94 365.8 C303.7 359.3 304.27 352.5 304.84 346"/><path d="M316.41 443.8 C317.04 437.5 320.21 431.5 322.71 425 C326.03 418.5 328.52 411.7 331.01 405.2 C333.65 398.7 335.63 392 337.61 385.5 C339.41 379 340.76 372.3 342.11 365.8 C342.87 359.3 343.44 352.5 344.01 346"/></g><g stroke-width="2.4"><path d="M226.5 346 C239.43 346.55 252.74 345.45 265.67 346 C278.6 346.55 291.91 345.45 304.84 346 C317.77 346.55 331.08 345.45 344.01 346" stroke="#b00404"/><path d="M224.6 365.8 C237.53 367.56 250.84 364.04 263.77 365.8 C276.7 367.56 290.01 364.04 302.94 365.8 C315.87 367.56 329.18 364.04 342.11 365.8" stroke="#e00808"/><path d="M220.1 385.5 C233.03 388.36 246.34 382.64 259.27 385.5 C272.2 388.36 285.51 382.64 298.44 385.5 C311.37 388.36 324.68 382.64 337.61 385.5" stroke="#e8960a"/><path d="M213.5 405.2 C226.43 408.83 239.74 401.57 252.67 405.2 C265.6 408.83 278.91 401.57 291.84 405.2 C304.77 408.83 318.08 401.57 331.01 405.2" stroke="#10e010"/><path d="M205.2 425 C218.13 429.84 231.44 420.16 244.37 425 C257.3 429.84 270.61 420.16 283.54 425 C296.47 429.84 309.78 420.16 322.71 425" stroke="#1088e8"/></g></g>
<text class="h" x="258" y="317.6" filter="url(#sh)" textLength="37.6" lengthAdjust="spacingAndGlyphs">5 mm</text><text class="v" x="230.4" y="337.9" textLength="88.8" lengthAdjust="spacingAndGlyphs">181 [MNm/rad]</text><text class="mm" x="350.5" y="354.6" textLength="33" lengthAdjust="spacingAndGlyphs">55 mm</text></g>
<g>
<g stroke="#e8e8e8" stroke-width="0.8" filter="url(#soft2)"><line x1="370.6" y1="346" x2="397.7" y2="346"/><line x1="370.6" y1="365.8" x2="395.8" y2="365.8"/><line x1="370.6" y1="385.5" x2="391.4" y2="385.5"/><line x1="370.6" y1="405.2" x2="384.7" y2="405.2"/><line x1="370.6" y1="425" x2="376.5" y2="425"/></g>
<g fill="none" stroke-linecap="round" stroke-linejoin="round" filter="url(#soft)"><g stroke="url(#g2)" stroke-width="2.1"><path d="M370.1 443.8 C370.74 437.5 374 431.5 376.5 425 C379.78 418.5 382.24 411.7 384.7 405.2 C387.38 398.7 389.39 392 391.4 385.5 C393.16 379 394.48 372.3 395.8 365.8 C396.56 359.3 397.13 352.5 397.7 346"/><path d="M409.27 443.8 C409.91 437.5 413.17 431.5 415.67 425 C418.95 418.5 421.41 411.7 423.87 405.2 C426.55 398.7 428.56 392 430.57 385.5 C432.33 379 433.65 372.3 434.97 365.8 C435.73 359.3 436.3 352.5 436.87 346"/><path d="M448.44 443.8 C449.08 437.5 452.34 431.5 454.84 425 C458.12 418.5 460.58 411.7 463.04 405.2 C465.72 398.7 467.73 392 469.74 385.5 C471.5 379 472.82 372.3 474.14 365.8 C474.9 359.3 475.47 352.5 476.04 346"/><path d="M487.61 443.8 C488.25 437.5 491.51 431.5 494.01 425 C497.29 418.5 499.75 411.7 502.21 405.2 C504.89 398.7 506.9 392 508.91 385.5 C510.67 379 511.99 372.3 513.31 365.8 C514.07 359.3 514.64 352.5 515.21 346"/></g><g stroke-width="2.4"><path d="M397.7 346 C410.63 346.55 423.94 345.45 436.87 346 C449.8 346.55 463.11 345.45 476.04 346 C488.97 346.55 502.28 345.45 515.21 346" stroke="#b00404"/><path d="M395.8 365.8 C408.73 367.56 422.04 364.04 434.97 365.8 C447.9 367.56 461.21 364.04 474.14 365.8 C487.07 367.56 500.38 364.04 513.31 365.8" stroke="#e00808"/><path d="M391.4 385.5 C404.33 388.36 417.64 382.64 430.57 385.5 C443.5 388.36 456.81 382.64 469.74 385.5 C482.67 388.36 495.98 382.64 508.91 385.5" stroke="#e8960a"/><path d="M384.7 405.2 C397.63 408.83 410.94 401.57 423.87 405.2 C436.8 408.83 450.11 401.57 463.04 405.2 C475.97 408.83 489.28 401.57 502.21 405.2" stroke="#10e010"/><path d="M376.5 425 C389.43 429.84 402.74 420.16 415.67 425 C428.6 429.84 441.91 420.16 454.84 425 C467.77 429.84 481.08 420.16 494.01 425" stroke="#1088e8"/></g></g>
<text class="h" x="434.4" y="318.1" filter="url(#sh)" textLength="45.6" lengthAdjust="spacingAndGlyphs">30 mm</text><text class="v" x="404" y="337.9" textLength="89.4" lengthAdjust="spacingAndGlyphs">217 [MNm/rad]</text><text class="mm" x="520.4" y="354.6" textLength="33" lengthAdjust="spacingAndGlyphs">54 mm</text></g>
<g>
<g stroke="#e8e8e8" stroke-width="0.8" filter="url(#soft2)"><line x1="542" y1="346" x2="565.7" y2="346"/><line x1="542" y1="365.8" x2="563.8" y2="365.8"/><line x1="542" y1="385.5" x2="559.9" y2="385.5"/><line x1="542" y1="405.2" x2="554.1" y2="405.2"/><line x1="542" y1="425" x2="546.8" y2="425"/></g>
<g fill="none" stroke-linecap="round" stroke-linejoin="round" filter="url(#soft)"><g stroke="url(#g4)" stroke-width="2.1"><path d="M541.5 443.8 C542.03 437.5 544.3 431.5 546.8 425 C549.72 418.5 551.91 411.7 554.1 405.2 C556.42 398.7 558.16 392 559.9 385.5 C561.46 379 562.63 372.3 563.8 365.8 C564.56 359.3 565.13 352.5 565.7 346"/><path d="M580.67 443.8 C581.2 437.5 583.47 431.5 585.97 425 C588.89 418.5 591.08 411.7 593.27 405.2 C595.59 398.7 597.33 392 599.07 385.5 C600.63 379 601.8 372.3 602.97 365.8 C603.73 359.3 604.3 352.5 604.87 346"/><path d="M619.84 443.8 C620.37 437.5 622.64 431.5 625.14 425 C628.06 418.5 630.25 411.7 632.44 405.2 C634.76 398.7 636.5 392 638.24 385.5 C639.8 379 640.97 372.3 642.14 365.8 C642.9 359.3 643.47 352.5 644.04 346"/><path d="M659.01 443.8 C659.54 437.5 661.81 431.5 664.31 425 C667.23 418.5 669.42 411.7 671.61 405.2 C673.93 398.7 675.67 392 677.41 385.5 C678.97 379 680.14 372.3 681.31 365.8 C682.07 359.3 682.64 352.5 683.21 346"/></g><g stroke-width="2.4"><path d="M565.7 346 C578.63 346.55 591.94 345.45 604.87 346 C617.8 346.55 631.11 345.45 644.04 346 C656.97 346.55 670.28 345.45 683.21 346" stroke="#d80404"/><path d="M563.8 365.8 C576.73 367.56 590.04 364.04 602.97 365.8 C615.9 367.56 629.21 364.04 642.14 365.8 C655.07 367.56 668.38 364.04 681.31 365.8" stroke="#d89010"/><path d="M559.9 385.5 C572.83 388.36 586.14 382.64 599.07 385.5 C612 388.36 625.31 382.64 638.24 385.5 C651.17 388.36 664.48 382.64 677.41 385.5" stroke="#b0a408"/><path d="M554.1 405.2 C567.03 408.83 580.34 401.57 593.27 405.2 C606.2 408.83 619.51 401.57 632.44 405.2 C645.37 408.83 658.68 401.57 671.61 405.2" stroke="#10b450"/><path d="M546.8 425 C559.73 429.84 573.04 420.16 585.97 425 C598.9 429.84 612.21 420.16 625.14 425 C638.07 429.84 651.38 420.16 664.31 425" stroke="#1078d4"/></g></g>
<text class="h" x="588.8" y="316.9" filter="url(#sh)" textLength="64.3" lengthAdjust="spacingAndGlyphs">Biegesteif</text><text class="v" x="571.8" y="339.5" textLength="67.5" lengthAdjust="spacingAndGlyphs">∞ MNm/rad</text><text class="mm" x="686.3" y="355.1" textLength="33" lengthAdjust="spacingAndGlyphs">48 mm</text></g>
</svg>
</body></html>
